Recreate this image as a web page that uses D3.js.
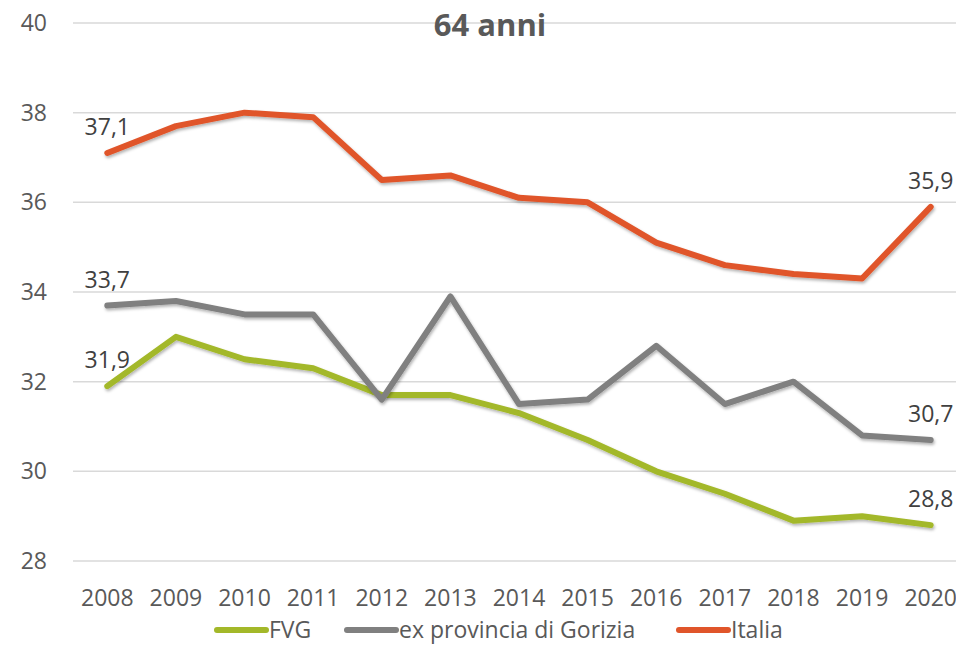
<!DOCTYPE html>
<html>
<head>
<meta charset="utf-8">
<script src="https://cdn.jsdelivr.net/npm/d3@7"></script>
<style>
  body { margin: 0; background: #fff; }
  svg { display: block; font-family: "Open Sans", sans-serif; }
</style>
</head>
<body>
<svg width="956" height="646"></svg>
<script>
// data
let years = ["2008", "2009", "2010", "2011", "2012", "2013", "2014", "2015", "2016", "2017", "2018", "2019", "2020"];
let fvg = [31.9, 33.0, 32.5, 32.3, 31.7, 31.7, 31.3, 30.7, 30.0, 29.5, 28.9, 29.0, 28.8];
let gorizia = [33.7, 33.8, 33.5, 33.5, 31.6, 33.9, 31.5, 31.6, 32.8, 31.5, 32.0, 30.8, 30.7];
let italia = [37.1, 37.7, 38.0, 37.9, 36.5, 36.6, 36.1, 36.0, 35.1, 34.6, 34.4, 34.3, 35.9];
let seriesNames = ["FVG", "ex provincia di Gorizia", "Italia"];
let yTicks = [28, 30, 32, 34, 36, 38, 40];

let svg = d3.select("svg"),
    margin = {top: 23, right: -9, bottom: 85, left: 73},
    width = svg.attr("width") - margin.left - margin.right,
    height = svg.attr("height") - margin.top - margin.bottom;

let textColor = "#595959";
let colors = ["#a3b829", "#808080", "#e0552a"];

let series = [fvg, gorizia, italia].map((vals, i) => ({
  name: seriesNames[i],
  color: colors[i],
  values: vals.map((v, j) => ({year: years[j], value: v}))
}));

let x = d3.scaleBand().domain(years).range([0, width]),
    y = d3.scaleLinear().domain([28, 40]).range([height, 0]);

let defs = svg.append("defs");
defs.append("filter")
    .attr("id", "shadow")
    .attr("x", "-5%").attr("y", "-20%").attr("width", "110%").attr("height", "140%")
  .append("feDropShadow")
    .attr("dx", 1).attr("dy", 2)
    .attr("stdDeviation", 1.5)
    .attr("flood-color", "#000")
    .attr("flood-opacity", 0.3);

let g = svg.append("g")
    .attr("transform", "translate(" + margin.left + "," + margin.top + ")");

// gridlines + y labels
g.append("g")
  .selectAll("line")
  .data(yTicks)
  .enter().append("line")
    .attr("x1", 0).attr("x2", width)
    .attr("y1", (d) => y(d)).attr("y2", (d) => y(d))
    .style("stroke", "#d9d9d9")
    .style("stroke-width", 1.5);

g.append("g")
  .selectAll("text")
  .data(yTicks)
  .enter().append("text")
    .attr("x", -26)
    .attr("y", (d) => y(d))
    .attr("dy", ".35em")
    .style("text-anchor", "end")
    .style("font-size", "23px")
    .style("fill", textColor)
    .text((d) => d);

// x labels
g.append("g")
  .selectAll("text")
  .data(years)
  .enter().append("text")
    .attr("x", (d) => x(d) + x.bandwidth() / 2)
    .attr("y", height + 37)
    .attr("dy", ".35em")
    .style("text-anchor", "middle")
    .style("font-size", "23px")
    .style("fill", textColor)
    .text((d) => d);

let line = d3.line()
    .x((d) => x(d.year) + x.bandwidth() / 2)
    .y((d) => y(d.value));

g.append("g")
  .selectAll("path")
  .data(series)
  .enter().append("path")
    .attr("d", (d) => line(d.values))
    .style("fill", "none")
    .style("stroke", (d) => d.color)
    .style("stroke-width", 6)
    .style("stroke-linecap", "round")
    .style("stroke-linejoin", "round")
    .attr("filter", "url(#shadow)");

// first and last value labels
let fmt = (v) => d3.format(".1f")(v).replace(".", ",");
let labels = [];
series.forEach((s) => {
  labels.push(s.values[0]);
  labels.push(s.values[s.values.length - 1]);
});

g.append("g")
  .selectAll("text")
  .data(labels)
  .enter().append("text")
    .attr("x", (d) => x(d.year) + x.bandwidth() / 2)
    .attr("y", (d) => y(d.value) - 26)
    .attr("dy", ".35em")
    .style("text-anchor", "middle")
    .style("font-size", "23px")
    .style("fill", "#404040")
    .text((d) => fmt(d.value));

// title
svg.append("text")
    .attr("x", 490)
    .attr("y", 25)
    .attr("dy", ".35em")
    .style("text-anchor", "middle")
    .style("font-size", "31px")
    .style("font-weight", "bold")
    .style("fill", textColor)
    .text("64 anni");

// legend
let legendX = [217, 347, 679];
let legend = svg.append("g")
  .selectAll("g")
  .data(series)
  .enter().append("g")
    .attr("transform", (d, i) => "translate(" + legendX[i] + ",630)");

legend.append("line")
    .attr("x1", 0).attr("x2", 49)
    .style("stroke", (d) => d.color)
    .style("stroke-width", 6)
    .style("stroke-linecap", "round");

legend.append("text")
    .attr("x", 52)
    .attr("dy", ".35em")
    .style("font-size", "23px")
    .style("fill", textColor)
    .text((d) => d.name);
</script>
</body>
</html>
